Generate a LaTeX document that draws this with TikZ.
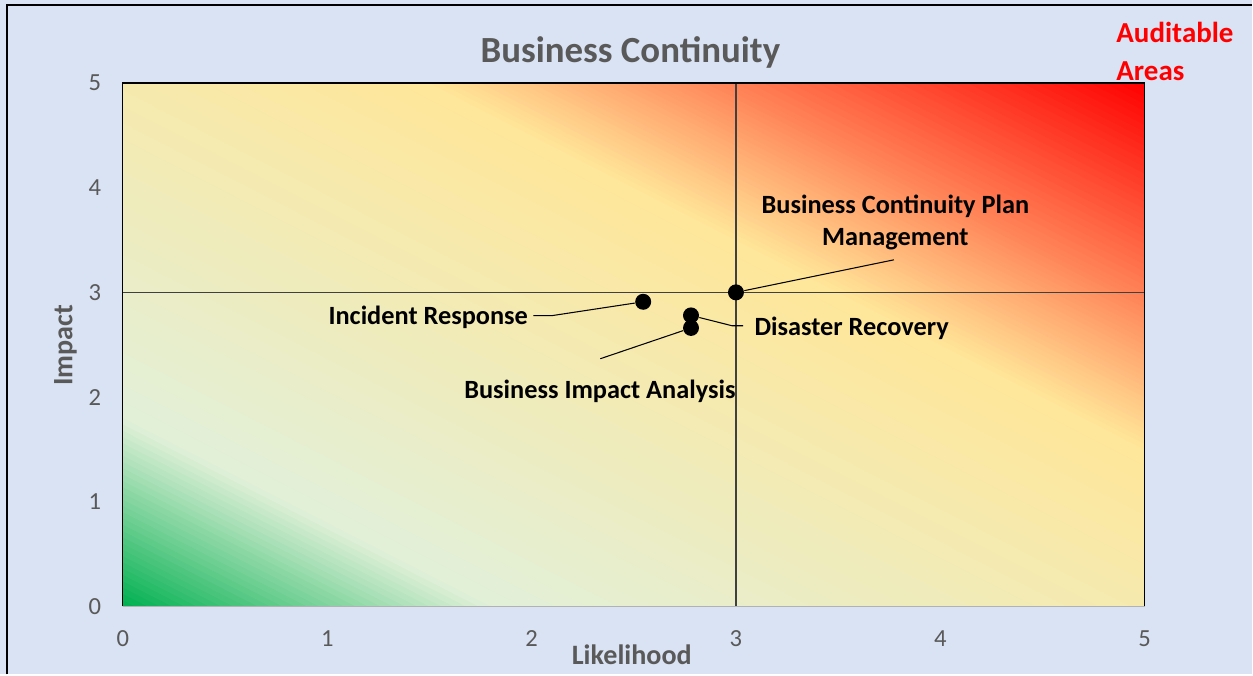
\documentclass[tikz,border=0pt]{standalone}
\usepackage{fontspec}
\setmainfont{Carlito}
\usetikzlibrary{positioning}

\definecolor{chartbg}{RGB}{218,227,243}
\definecolor{axisgray}{RGB}{89,89,89}
\definecolor{rgreen}{RGB}{0,176,80}
\definecolor{rpale}{RGB}{226,240,217}
\definecolor{ryellow}{RGB}{255,230,153}
\definecolor{rorange}{RGB}{255,128,85}
\definecolor{rred}{RGB}{255,0,0}

\begin{document}
\begin{tikzpicture}[x=0.02cm, y=0.02cm, semithick]
  \tikzstyle{risk}=[circle, fill=black, inner sep=0pt, minimum size=0.32cm]
  \tikzstyle{area}=[font=\fontsize{15}{18}\selectfont\bfseries, text=black, align=center, inner sep=0.1cm]
  \tikzstyle{tick}=[font=\fontsize{14}{16}\selectfont, text=axisgray, inner sep=0pt]
  \tikzstyle{axistitle}=[font=\fontsize{16}{19}\selectfont\bfseries, text=axisgray, inner sep=0pt]
  \tikzstyle{leader}=[black, line width=0.6pt]
  \tikzstyle{cross}=[draw=black!75, line width=0.9pt]

  % chart background and frame
  \fill[chartbg] (0,0) rectangle (1253,675);
  \draw[line width=1.4pt] (7,0) -- (7,670) -- (1253,670);

  \node[font=\fontsize{21}{25}\selectfont\bfseries, text=axisgray, inner sep=0pt] (title) at (631,622) {Business Continuity};
  \node[font=\fontsize{16.5}{21.5}\selectfont\bfseries, text=red, align=left, inner sep=0pt, anchor=north west] (audit) at (1117,653) {Auditable\\Areas};

  % plot area in data units
  \begin{scope}[shift={(123,68)}, x=4.092cm, y=2.096cm]
    \begin{scope}
      \clip (0,0) rectangle (5,5);
      \foreach \ta/\tb/\ca/\cb in {0/0.18/rgreen/rpale, 0.18/0.65/rpale/ryellow, 0.65/0.8/ryellow/rorange, 0.8/1/rorange/rred}
        \foreach \k in {0,...,29} {
          \pgfmathsetmacro\lo{10*(\ta+(\tb-\ta)*\k/30)}
          \pgfmathsetmacro\hi{10*(\ta+(\tb-\ta)*(\k+1.5)/30)}
          \pgfmathsetmacro\mix{100*(1-(\k+0.5)/30)}
          \fill[\ca!\mix!\cb] (\lo,0) -- (\hi,0) -- (0,\hi) -- (0,\lo) -- cycle;
        }
    \end{scope}

    % quadrant lines and border
    \draw[cross] (3,0) -- (3,5);
    \draw[cross] (0,3) -- (5,3);
    \draw[black, line width=0.6pt] (0,0) -- (0,5) -- (5,5) -- (5,0);
    \draw[black!30, line width=1pt] (0,0) -- (5,0);

    \foreach \v in {0,...,5} {
      \node[tick] (xt\v) at (\v,-0.305) {\v};
      \node[tick] (yt\v) at (-0.137,\v) {\v};
    }
    \node[axistitle] (xlab) at (2.49,-0.46) {Likelihood};
    \node[axistitle, rotate=90] (ylab) at (-0.281,2.495) {Impact};

    % audit areas
    \node[risk] (irdot)  at (2.546,2.91) {};
    \node[risk] (bcpdot) at (3,3) {};
    \node[risk] (drdot)  at (2.78,2.78) {};
    \node[risk] (biadot) at (2.78,2.66) {};

    \node[area, anchor=east] (irlab)  at (2.009,2.758) {Incident Response};
    \node[area, anchor=west] (drlab)  at (3.064,2.653) {Disaster Recovery};
    \node[area] (bialab) at (2.334,2.052) {Business Impact Analysis};
    \node[area] (bcplab) at (3.78,3.67) {Business Continuity Plan\\Management};

    \coordinate (irbend)  at (2.097,2.777);
    \coordinate (drbend)  at (2.981,2.681);
    \coordinate (drend)   at (3.035,2.681);
    \coordinate (biaend)  at (2.336,2.366);
    \coordinate (bcpend)  at (3.773,3.311);

    \draw[leader] (irlab.east |- irbend) -- (irbend) -- (irdot);
    \draw[leader] (drdot) -- (drbend) -- (drend);
    \draw[leader] (biadot) -- (biaend);
    \draw[leader] (bcpdot) -- (bcpend);
  \end{scope}
\end{tikzpicture}
\end{document}
